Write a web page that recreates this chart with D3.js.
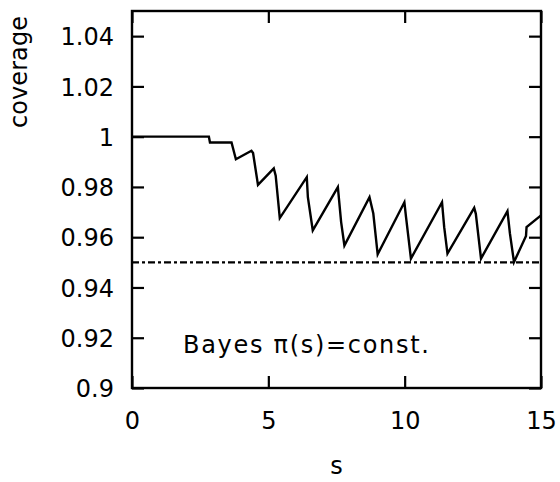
<!DOCTYPE html>
<html>
<head>
<meta charset="utf-8">
<script src="https://cdn.jsdelivr.net/npm/d3@7"></script>
<style>
  body { margin: 0; background: #fff; }
  svg { display: block; }
  text { font-family: "DejaVu Sans", sans-serif; fill: #000; }
</style>
</head>
<body>
<svg id="chart"></svg>
<script>
// coverage curve (s, coverage)
const sValues = [0, 2.82, 2.86, 3.65, 3.81, 4.38, 4.44, 4.62, 5.20, 5.27, 5.42,
  6.41, 6.45, 6.63, 7.55, 7.67, 7.79, 8.71, 8.85, 9.01, 9.99, 10.05, 10.23,
  11.37, 11.45, 11.57, 12.55, 12.61, 12.80, 13.77, 13.86, 14.01, 14.45, 14.47, 15];
const coverage = [1.0, 1.0, 0.9977, 0.9977, 0.991, 0.9944, 0.9935, 0.9808, 0.9874, 0.9845, 0.9676,
  0.9839, 0.9759, 0.9627, 0.9799, 0.966, 0.9567, 0.9759, 0.9694, 0.9532, 0.9739, 0.968, 0.9515,
  0.9739, 0.964, 0.9535, 0.9717, 0.9693, 0.9515, 0.9704, 0.9615, 0.9501, 0.9605, 0.964, 0.9687];
const nominal = 0.95;
const xTicks = [0, 5, 10, 15];
const yTicks = [0.9, 0.92, 0.94, 0.96, 0.98, 1, 1.02, 1.04];
const label = "Bayes \u03c0(s)=const.";

const width = 560, height = 482;
const margin = { top: 11, right: 19, bottom: 94, left: 132 };

const svg = d3.select("#chart").attr("width", width).attr("height", height);

const x = d3.scaleLinear().domain([0, 15]).range([margin.left, width - margin.right]);
const y = d3.scaleLinear().domain([0.9, 1.05]).range([height - margin.bottom, margin.top]);

const tickLen = 12;
const fmtY = d => d3.format("~g")(d);

// frame
svg.append("rect")
  .attr("x", x(0)).attr("y", y(1.05))
  .attr("width", x(15) - x(0)).attr("height", y(0.9) - y(1.05))
  .attr("fill", "none").attr("stroke", "#000").attr("stroke-width", 2.4);

// axes, ticks pointing inward
const axB = svg.append("g").attr("transform", `translate(0,${y(0.9)})`)
  .call(d3.axisBottom(x).tickValues(xTicks).tickSize(-tickLen).tickPadding(24));
const axT = svg.append("g").attr("transform", `translate(0,${y(1.05)})`)
  .call(d3.axisTop(x).tickValues(xTicks).tickSize(-tickLen).tickFormat(""));
const axL = svg.append("g").attr("transform", `translate(${x(0)},0)`)
  .call(d3.axisLeft(y).tickValues(yTicks).tickSize(-tickLen).tickPadding(18).tickFormat(fmtY));
const axR = svg.append("g").attr("transform", `translate(${x(15)},0)`)
  .call(d3.axisRight(y).tickValues(yTicks).tickSize(-tickLen).tickFormat(""));

[axB, axT, axL, axR].forEach(g => {
  g.select(".domain").remove();
  g.selectAll(".tick line").attr("stroke", "#000").attr("stroke-width", 2.2);
  g.selectAll("text").attr("font-size", 24).attr("font-family", "DejaVu Sans, sans-serif");
});
axL.selectAll("text").attr("dy", "0.36em");

// nominal level
svg.append("line")
  .attr("x1", x(0)).attr("x2", x(15))
  .attr("y1", y(nominal)).attr("y2", y(nominal))
  .attr("stroke", "#000").attr("stroke-width", 2.2)
  .attr("stroke-dasharray", "7,3,3,3");

// coverage curve
const pts = sValues.map((s, i) => [s, coverage[i]]);
svg.append("path")
  .datum(pts)
  .attr("fill", "none").attr("stroke", "#000").attr("stroke-width", 2.4)
  .attr("stroke-linejoin", "miter")
  .attr("d", d3.line().x(d => x(d[0])).y(d => y(d[1])));

// annotation
svg.append("text")
  .attr("x", 183).attr("y", 353)
  .attr("font-size", 24)
  .attr("textLength", 246)
  .text(label);

// axis titles
svg.append("text")
  .attr("x", (x(0) + x(15)) / 2).attr("y", 474)
  .attr("text-anchor", "middle").attr("font-size", 24)
  .text("s");

svg.append("text")
  .attr("transform", `translate(27,72) rotate(-90)`)
  .attr("text-anchor", "middle").attr("font-size", 24)
  .attr("textLength", 112)
  .text("coverage");
</script>
</body>
</html>
